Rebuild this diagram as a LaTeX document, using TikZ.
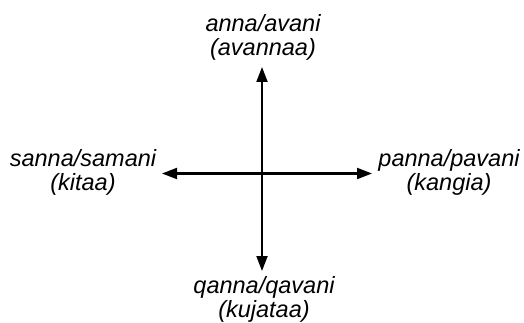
\documentclass[tikz,border=0pt]{standalone}
\usepackage{fontspec}
\setmainfont{Liberation Sans}
\usetikzlibrary{arrows.meta}
\begin{document}
\begin{tikzpicture}[x=1pt,y=-1pt,
  label/.style={align=center,font=\fontsize{23.5}{24}\selectfont\itshape,inner sep=0pt},
  axis/.style={line width=2pt,-{Triangle[length=15pt,width=11pt]}}]
\useasboundingbox (0,0) rectangle (524,323);
% centre of the compass and the ends of its four arms
\coordinate (c) at (262,173.5);
\coordinate (n) at (262,67);
\coordinate (s) at (262,271);
\coordinate (w) at (162,173.5);
\coordinate (e) at (372,173.5);
\draw[axis] (c) -- (n);
\draw[axis] (c) -- (s);
\draw[axis] (c) -- (w);
\draw[axis] (c) -- (e);
% direction names
\node[label] (north) at (263,37.5) {anna/avani\\(avannaa)};
\node[label] (south) at (264,299.5) {qanna/qavani\\(kujataa)};
\node[label] (west) at (83,172) {sanna/samani\\(kitaa)};
\node[label] (east) at (449,172) {panna/pavani\\(kangia)};
\end{tikzpicture}
\end{document}
